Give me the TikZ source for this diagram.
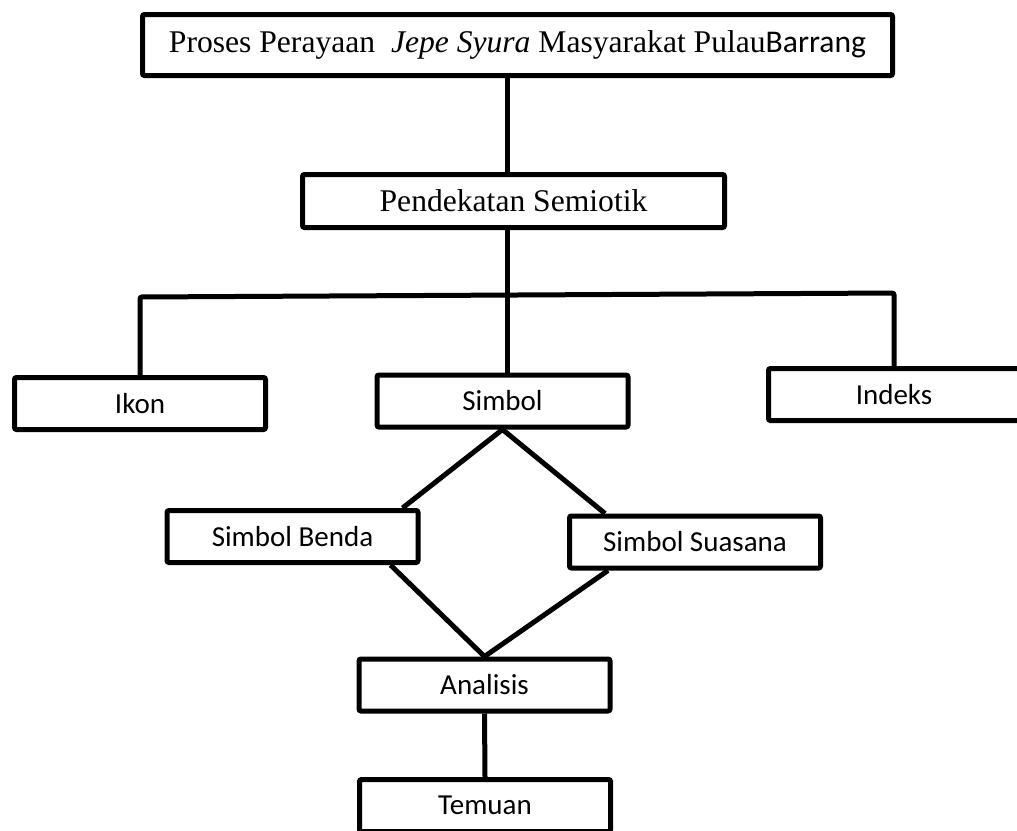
\documentclass[tikz,border=0pt]{standalone}
\usepackage{fontspec}
\setmainfont{Liberation Serif}
\newfontfamily\calibri{Carlito}
\usepackage{tikz}

\begin{document}
\begin{tikzpicture}[x=1pt, y=-1pt,
  ttl/.style={rectangle, draw=black, line width=5pt, rounded corners=2pt, inner sep=0pt,
              font=\fontsize{31.6pt}{36pt}\selectfont},
  blk/.style={rectangle, draw=black, line width=5pt, rounded corners=2pt, inner sep=0pt,
              minimum width=251pt, minimum height=52pt,
              font=\calibri\fontsize{29pt}{34pt}\selectfont},
  con/.style={draw=black, line width=5pt}
]
\useasboundingbox (0,0) rectangle (1017,830);

% Box positions
\node[ttl, minimum width=750pt, minimum height=61pt] (proses) at (517.5,45)
  {Proses Perayaan\ \ \textit{Jepe Syura} Masyarakat Pulau{\calibri Barrang}};
\node[ttl, minimum width=422pt, minimum height=53pt] (pendekatan) at (513.5,201)
  {Pendekatan Semiotik};

\node[blk] (ikon) at (140,403.5) {Ikon};
\node[blk] (simbol) at (502.5,401) {Simbol};
\node[blk] (indeks) at (894,394.5) {Indeks};

\node[blk] (benda) at (292.5,536.5) {Simbol Benda};
\node[blk] (suasana) at (695,542) {Simbol Suasana};

\node[blk] (analisis) at (484.5,685) {Analisis};
\node[blk] (temuan) at (485,805.5) {Temuan};

% Branch points
\coordinate (hub) at (507,295);
\coordinate (brL) at (140,297);
\coordinate (brR) at (894,293);

% Connections
\draw[con] (proses.south -| hub) -- (pendekatan.north -| hub);
\draw[con] (pendekatan.south -| hub) -- (simbol.north -| hub);
\draw[con, rounded corners=2pt] (ikon.north) -- (brL) -- (brR) -- (indeks.north);
\draw[con] ([xshift=110pt]benda.north) -- (simbol.south) -- ([xshift=-90pt]suasana.north);
\draw[con] ([xshift=98pt]benda.south) -- (analisis.north) -- ([xshift=-87pt]suasana.south);
\draw[con] (analisis.south) -- (temuan.north);

\end{tikzpicture}
\end{document}
